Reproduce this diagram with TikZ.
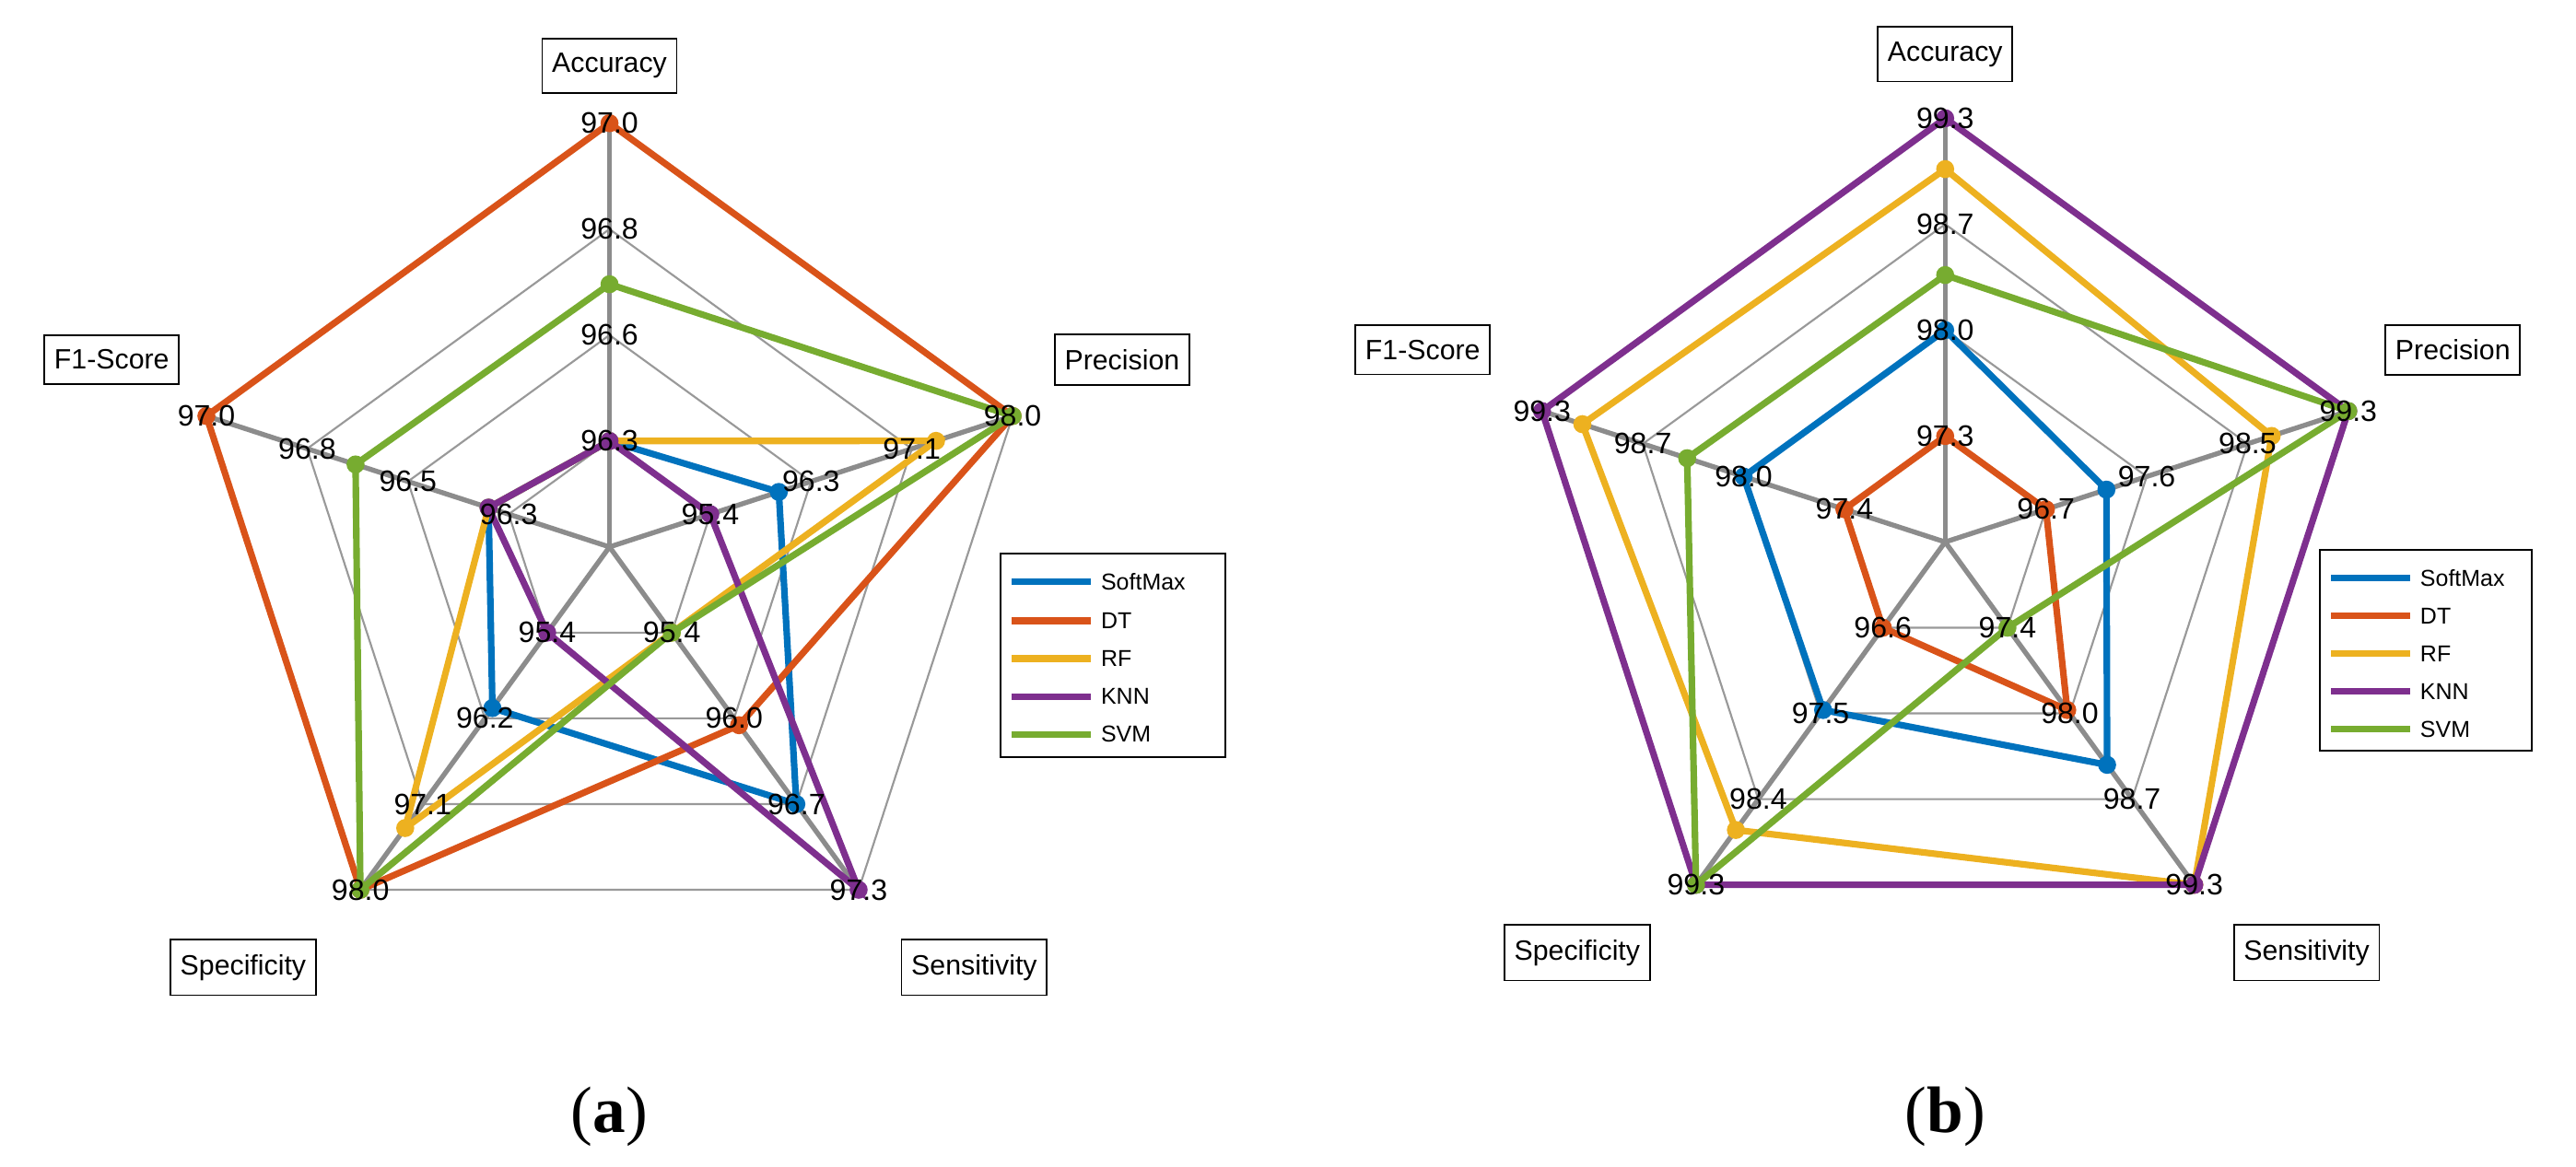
\documentclass[tikz,border=0pt]{standalone}
\usepackage{fontspec}
\setmainfont{Liberation Serif}
\newfontfamily\lab{Liberation Sans}
\definecolor{cA}{HTML}{0072BD}
\definecolor{cB}{HTML}{D95319}
\definecolor{cC}{HTML}{EDB120}
\definecolor{cD}{HTML}{7E2F8E}
\definecolor{cE}{HTML}{77AC30}
\begin{document}
\begin{tikzpicture}[x=1pt,y=1pt,
  grid/.style={gray!80,line width=1.2pt},
  spoke/.style={gray!90,line width=3pt},
  ser/.style={line width=4pt,line join=miter},
  tick/.style={font=\lab\fontsize{18}{18}\selectfont,inner sep=0pt},
  ttl/.style={draw,line width=1pt,fill=white,font=\lab\fontsize{17}{17}\selectfont,inner xsep=6pt,inner ysep=9pt},
  leg/.style={font=\lab\fontsize{14}{14}\selectfont,anchor=west,inner sep=0pt},
  sub/.style={font=\fontsize{40}{40}\selectfont}]
\useasboundingbox (0,-710) rectangle (1568,0);
\def\R{258}
\newcommand\myradar[3]{%
 \begin{scope}[shift={#1}]
  \foreach \f in {0.25,0.5,0.75,1}
   \draw[grid] (90:\R*\f)--(18:\R*\f)--(-54:\R*\f)--(-126:\R*\f)--(162:\R*\f)--cycle;
  \foreach \k in {0,...,4} \draw[spoke] (0,0)--(90-72*\k:\R);
  \foreach \c/\a/\b/\d/\e/\g in {#2}{
   \draw[ser,\c] (90:\R*\a)--(18:\R*\b)--(-54:\R*\d)--(-126:\R*\e)--(162:\R*\g)--cycle;
   \foreach \ang/\v in {90/\a,18/\b,-54/\d,-126/\e,162/\g}
     \fill[\c] (\ang:\R*\v) circle (5.5);
  }
  \foreach \ang/\p/\q/\r/\s in {#3}{
   \node[tick] at (\ang:\R) {\p};
   \node[tick] at (\ang:\R*0.75) {\q};
   \node[tick] at (\ang:\R*0.5) {\r};
   \node[tick] at (\ang:\R*0.25) {\s};
  }
 \end{scope}}
% (a)
\myradar{(371,-333)}{cA/0.25/0.42/0.75/0.47/0.3, cB/1/1/0.52/1/1, cC/0.25/0.81/0.25/0.82/0.3, cD/0.25/0.25/1/0.25/0.3, cE/0.62/1/0.25/1/0.63}
 {90/97.0/96.8/96.6/96.3, 18/98.0/97.1/96.3/95.4, -54/97.3/96.7/96.0/95.4, -126/98.0/97.1/96.2/95.4, 162/97.0/96.8/96.5/96.3}
\node[ttl] (accA) at (371,-40) {Accuracy};
\node[ttl] (preA) at (683,-219) {Precision};
\node[ttl] (senA) at (593,-589) {Sensitivity};
\node[ttl] (speA) at (148,-589) {Specificity};
\node[ttl] (f1A) at (68,-219) {F1-Score};
\draw[line width=1pt,fill=white] (609,-337) rectangle (746,-461);
\foreach \y/\c/\t in {354/cA/SoftMax,378/cB/DT,401/cC/RF,424/cD/KNN,447/cE/SVM}{
 \draw[\c,line width=4pt] (616,-\y)--(664,-\y);
 \node[leg] at (670,-\y) {\t};}
\node[sub] (la) at (371,-680) {(\textbf{a})};
% (b)
\myradar{(1184,-330)}{cA/0.5/0.4/0.65/0.49/0.5, cB/0.25/0.25/0.49/0.25/0.25, cC/0.88/0.81/1/0.84/0.9, cD/1/1/1/1/1, cE/0.63/1/0.25/1/0.64}
 {90/99.3/98.7/98.0/97.3, 18/99.3/98.5/97.6/96.7, -54/99.3/98.7/98.0/97.4, -126/99.3/98.4/97.5/96.6, 162/99.3/98.7/98.0/97.4}
\node[ttl] (accB) at (1184,-33) {Accuracy};
\node[ttl] (preB) at (1493,-213) {Precision};
\node[ttl] (senB) at (1404,-580) {Sensitivity};
\node[ttl] (speB) at (960,-580) {Specificity};
\node[ttl] (f1B) at (866,-213) {F1-Score};
\draw[line width=1pt,fill=white] (1412,-335) rectangle (1541,-457);
\foreach \y/\c/\t in {352/cA/SoftMax,375/cB/DT,398/cC/RF,421/cD/KNN,444/cE/SVM}{
 \draw[\c,line width=4pt] (1419,-\y)--(1467,-\y);
 \node[leg] at (1473,-\y) {\t};}
\node[sub] (lb) at (1184,-680) {(\textbf{b})};
\end{tikzpicture}
\end{document}
